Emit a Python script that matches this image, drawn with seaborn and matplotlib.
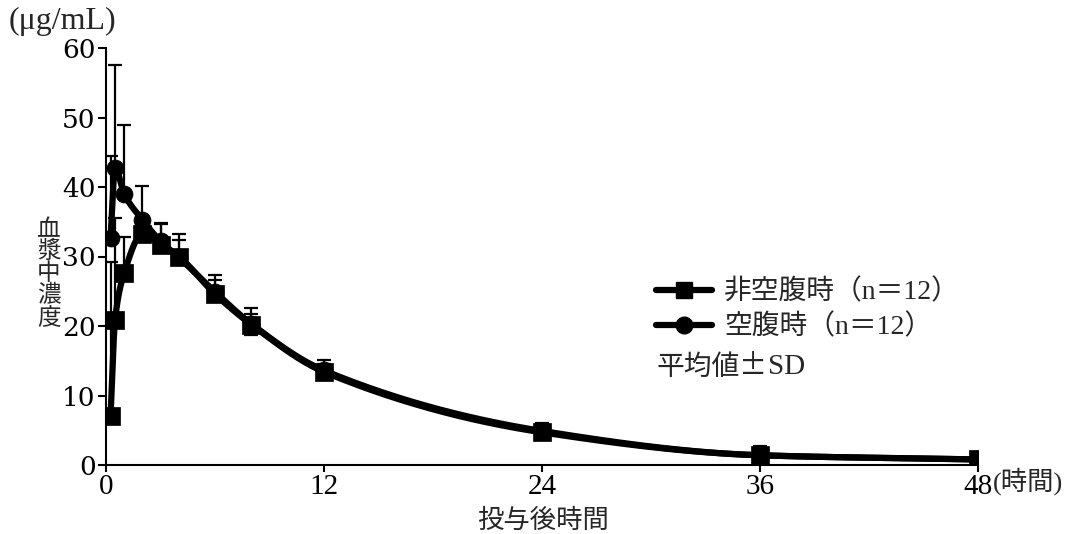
import numpy as np
import pandas as pd
import matplotlib
matplotlib.use("Agg")
import matplotlib.pyplot as plt
from matplotlib.lines import Line2D
from matplotlib.transforms import offset_copy
import seaborn as sns

# Sampling times (h) and plasma concentrations (μg/mL), mean ± SD
time_h = [0.25, 0.5, 1, 2, 3, 4, 6, 8, 12, 24, 36, 48]

fed_mean = [7.0, 20.9, 27.6, 33.2, 31.7, 30.0, 24.6, 20.2, 13.4, 4.7, 1.4, 0.8]
fed_sd_upper = [22.2, 14.6, 5.2, 1.5, 3.0, 2.4, 2.0, 1.5, 1.1, 0.9, 0.8, 0.2]
fed_sd_lower = [0, 0, 0, 0, 0, 0, 0, 1.5, 1.1, 0.9, 0, 0]

fasted_mean = [32.7, 42.8, 39.0, 35.3, 32.2, 29.9, 24.9, 20.3, 13.6, 4.9, 1.4, 0.8]
fasted_sd_upper = [11.7, 14.7, 9.9, 4.8, 2.6, 3.3, 2.5, 2.3, 1.5, 1.1, 1.3, 0.2]
fasted_sd_lower = [0] * 12

x_ticks = [0, 12, 24, 36, 48]
y_ticks = [0, 10, 20, 30, 40, 50, 60]
legend_labels = ["非空腹時（n＝12）", "空腹時（n＝12）"]
note_text = ("平均値±", "SD")
y_label = "血漿中濃度"
x_label = "投与後時間"
unit_y = "(μg/mL)"
unit_x = "(時間)"

sns.set_theme(style="ticks")
plt.rcParams["font.family"] = ["DejaVu Serif", "Noto Sans CJK JP"]
plt.rcParams["axes.linewidth"] = 1.5

SERIF_CJK = ["Liberation Serif", "Noto Sans CJK JP"]
CJK = ["Noto Sans CJK JP", "Liberation Serif"]


def smooth_curve(x, y):
    """Monotone cubic Hermite curve through the measured points."""
    x = np.asarray(x, float)
    y = np.asarray(y, float)
    h = np.diff(x)
    d = np.diff(y) / h
    m = np.zeros_like(y)
    m[0], m[-1] = d[0], d[-1]
    for k in range(1, len(x) - 1):
        if d[k - 1] * d[k] <= 0:
            m[k] = 0.0
        else:
            w1 = 2 * h[k] + h[k - 1]
            w2 = h[k] + 2 * h[k - 1]
            m[k] = (w1 + w2) / (w1 / d[k - 1] + w2 / d[k])
    xs = np.concatenate([np.linspace(x[i], x[i + 1], 60, endpoint=False)
                         for i in range(len(x) - 1)] + [x[-1:]])
    idx = np.clip(np.searchsorted(x, xs, side="right") - 1, 0, len(x) - 2)
    t = (xs - x[idx]) / h[idx]
    h00 = 2 * t**3 - 3 * t**2 + 1
    h10 = t**3 - 2 * t**2 + t
    h01 = -2 * t**3 + 3 * t**2
    h11 = t**3 - t**2
    ys = (h00 * y[idx] + h10 * h[idx] * m[idx]
          + h01 * y[idx + 1] + h11 * h[idx] * m[idx + 1])
    return pd.DataFrame({"time": xs, "conc": ys})


fig = plt.figure(figsize=(10.75, 5.34), dpi=100)
ax = fig.add_axes([106 / 1075, 1 - 465 / 534, (978 - 106) / 1075, (465 - 48) / 534])

series = [
    (fasted_mean, fasted_sd_lower, fasted_sd_upper, "o", 150),
    (fed_mean, fed_sd_lower, fed_sd_upper, "s", 150),
]

for mean, lo, up, mk, size in series:
    ax.errorbar(time_h, mean, yerr=[lo, up], fmt="none", ecolor="black",
                elinewidth=1.6, capsize=5, capthick=1.6, zorder=1)

for mean, lo, up, mk, size in series:
    curve = smooth_curve(time_h, mean)
    sns.lineplot(data=curve, x="time", y="conc", color="black", linewidth=4.5,
                 sort=False, ax=ax, zorder=2)
    pts = pd.DataFrame({"time": time_h, "conc": mean})
    sns.scatterplot(data=pts, x="time", y="conc", marker=mk, s=size,
                    color="black", edgecolor="black", linewidth=0.5,
                    ax=ax, zorder=3)

ax.set_xlim(0, 48)
ax.set_ylim(0, 60)
ax.set_xticks(x_ticks)
ax.set_yticks(y_ticks)
ax.set_xlabel("")
ax.set_ylabel("")
ax.tick_params(axis="y", direction="out", length=6, width=1.5, pad=1.5,
               colors="black")
ax.tick_params(axis="x", direction="out", length=5, width=1.5, pad=1.5,
               colors="black")
for lab in ax.get_yticklabels():
    lab.set_fontfamily(["DejaVu Serif"])
    lab.set_fontsize(19)
for lab in ax.get_xticklabels():
    lab.set_fontfamily(["Liberation Serif", "DejaVu Serif"])
    lab.set_fontsize(21)
sns.despine(ax=ax)
for sp in ("left", "bottom"):
    ax.spines[sp].set_color("black")
    ax.spines[sp].set_linewidth(1.5)

# Axis titles and units
fig.text(9 / 1075, 1 - 21 / 534, unit_y, fontsize=23, va="center", ha="left",
         family=["Liberation Serif", "DejaVu Serif"])
fig.text(49 / 1075, 1 - 274 / 534, "\n".join(y_label), fontsize=17,
         va="center", ha="center", linespacing=0.95, family=CJK)
fig.text(543 / 1075, 1 - 520 / 534, x_label, fontsize=19, va="center",
         ha="center", family=CJK)
fig.text(993 / 1075, 1 - 481 / 534, unit_x, fontsize=19, va="center",
         ha="left", family=SERIF_CJK)

# Legend
handles = [
    Line2D([], [], color="black", linewidth=4.5, marker="s", markersize=12),
    Line2D([], [], color="black", linewidth=4.5, marker="o", markersize=12),
]
leg = fig.legend(handles, legend_labels, loc="upper left",
                 bbox_to_anchor=(656 / 1075, 1 - 279 / 534),
                 bbox_transform=fig.transFigure, frameon=False,
                 handlelength=2.0, handletextpad=0.45, labelspacing=0.3,
                 borderpad=0, borderaxespad=0,
                 prop={"family": SERIF_CJK, "size": 20})

# "平均値±SD" note: CJK part followed by serif "SD"
note_a = fig.text(657 / 1075, 1 - 367 / 534, note_text[0], fontsize=20,
                  va="center", ha="left", family=CJK)
fig.canvas.draw()
wa = note_a.get_window_extent().width
fig.text(657 / 1075, 1 - 367 / 534, note_text[1], fontsize=21, va="center",
         ha="left", family=["Liberation Serif"],
         transform=offset_copy(fig.transFigure, fig=fig, x=wa * 72 / fig.dpi,
                               y=0, units="points"))

fig.savefig("out.png", dpi=100, facecolor="white")
